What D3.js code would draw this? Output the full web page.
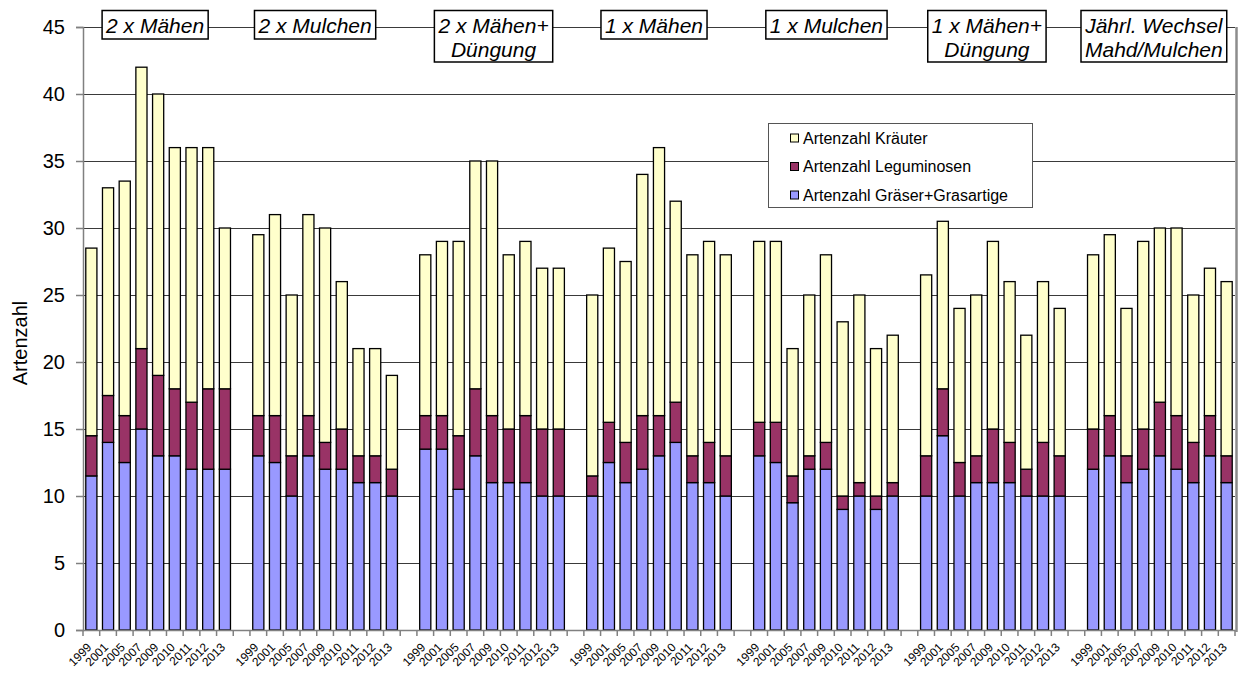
<!DOCTYPE html>
<html><head><meta charset="utf-8">
<script src="https://cdn.jsdelivr.net/npm/d3@7"></script>
<style>
html,body{margin:0;padding:0;background:#fff;}
svg{display:block;font-family:"Liberation Sans",Arial,sans-serif;}
</style></head>
<body><svg id="c" width="1239" height="673"></svg>
<script>
// ---- data ----
const years = ["1999","2001","2005","2007","2009","2010","2011","2012","2013"];
const groupLabels = [
  ["2 x Mähen"],
  ["2 x Mulchen"],
  ["2 x Mähen+","Düngung"],
  ["1 x Mähen"],
  ["1 x Mulchen"],
  ["1 x Mähen+","Düngung"],
  ["Jährl. Wechsel","Mahd/Mulchen"]
];
const seriesNames = ["Artenzahl Gräser+Grasartige","Artenzahl Leguminosen","Artenzahl Kräuter"];
const graeser = [
  [11.5,14,12.5,15,13,13,12,12,12],
  [13,12.5,10,13,12,12,11,11,10],
  [13.5,13.5,10.5,13,11,11,11,10,10],
  [10,12.5,11,12,13,14,11,11,10],
  [13,12.5,9.5,12,12,9,10,9,10],
  [10,14.5,10,11,11,11,10,10,10],
  [12,13,11,12,13,12,11,13,11]
];
const leguminosen = [
  [3,3.5,3.5,6,6,5,5,6,6],
  [3,3.5,3,3,2,3,2,2,2],
  [2.5,2.5,4,5,5,4,5,5,5],
  [1.5,3,3,4,3,3,2,3,3],
  [2.5,3,2,1,2,1,1,1,1],
  [3,3.5,2.5,2,4,3,2,4,3],
  [3,3,2,3,4,4,3,3,2]
];
const kraeuter = [
  [14,15.5,17.5,21,21,18,19,18,12],
  [13.5,15,12,15,16,11,8,8,7],
  [12,13,14.5,17,19,13,13,12,12],
  [13.5,13,13.5,18,20,15,15,15,15],
  [13.5,13.5,9.5,12,14,13,14,11,11],
  [13.5,12.5,11.5,12,14,12,10,12,11],
  [13,13.5,11,14,13,14,11,11,13]
];
const yTicks = [0,5,10,15,20,25,30,35,40,45];
const yTitle = "Artenzahl";

// ---- styles / layout ----
const colors = {"Artenzahl Gräser+Grasartige":"#9999FF","Artenzahl Leguminosen":"#993366","Artenzahl Kräuter":"#FFFFCC"};
const M = {left:83, right:1235, top:27, bottom:630};
const titleShift = [-3,-10,1.5,-5,0.5,-6,-6];

// build categories: 9 years per group + a blank between groups
const cats = [];
const rows = [];
groupLabels.forEach((g,gi)=>{
  years.forEach((y,yi)=>{
    const key = "g"+gi+"_"+y;
    cats.push(key);
    rows.push({key, year:y, group:gi,
      "Artenzahl Gräser+Grasartige":graeser[gi][yi],
      "Artenzahl Leguminosen":leguminosen[gi][yi],
      "Artenzahl Kräuter":kraeuter[gi][yi]});
  });
  if(gi<groupLabels.length-1) cats.push("gap"+gi);
});

const svg = d3.select("#c");
const x = d3.scaleBand().domain(cats).range([M.left,M.right]).paddingInner(1/3).paddingOuter(1/6);
const y = d3.scaleLinear().domain([0,45]).range([M.bottom,M.top]);

// gridlines
svg.append("g").selectAll("line").data(yTicks.filter(d=>d>0)).join("line")
  .attr("x1",M.left).attr("x2",M.right)
  .attr("y1",d=>Math.round(y(d))+0.5).attr("y2",d=>Math.round(y(d))+0.5)
  .attr("stroke","#3a3a3a").attr("stroke-width",1);

// right border
svg.append("line").attr("x1",M.right+1.5).attr("x2",M.right+1.5)
  .attr("y1",M.top).attr("y2",M.bottom+2).attr("stroke","#8c8c8c").attr("stroke-width",2.5);

// stacked bars
const stack = d3.stack().keys(seriesNames)(rows);
svg.append("g").selectAll("g").data(stack).join("g")
  .attr("fill",d=>colors[d.key])
  .selectAll("rect").data(d=>d).join("rect")
  .attr("x",d=>x(d.data.key)).attr("width",x.bandwidth())
  .attr("y",d=>y(d[1])).attr("height",d=>y(d[0])-y(d[1]))
  .attr("stroke","#000").attr("stroke-width",1.3);

// y axis
const yAxis = d3.axisLeft(y).tickValues(yTicks).tickSize(7).tickPadding(11);
const ya = svg.append("g").attr("transform",`translate(${M.left},0)`).call(yAxis);
ya.select(".domain").attr("stroke","#808080").attr("stroke-width",1.5);
ya.selectAll(".tick line").attr("stroke","#808080").attr("stroke-width",1.5);
ya.selectAll("text").attr("font-size",20).attr("fill","#000").attr("font-family","Liberation Sans, Arial, sans-serif");

// x axis: boundary ticks
const step = x.step();
const bounds = d3.range(cats.length+1).map(i=>M.left + i*step);
const xa = svg.append("g");
xa.append("line").attr("x1",M.left).attr("x2",M.right).attr("y1",M.bottom+0.5).attr("y2",M.bottom+0.5)
  .attr("stroke","#808080").attr("stroke-width",1.5);
xa.selectAll("line.t").data(bounds).join("line").attr("class","t")
  .attr("x1",d=>d).attr("x2",d=>d).attr("y1",M.bottom).attr("y2",M.bottom+6)
  .attr("stroke","#808080").attr("stroke-width",1.5);
xa.selectAll("text").data(rows).join("text")
  .attr("transform",d=>`translate(${x(d.key)+x.bandwidth()/2+1},${M.bottom+18}) rotate(-45)`)
  .attr("text-anchor","end").attr("font-size",12).attr("fill","#000")
  .text(d=>d.year);

// y title
svg.append("text").attr("transform",`translate(27,343) rotate(-90)`)
  .attr("text-anchor","middle").attr("font-size",20).attr("fill","#000").text(yTitle);

// group title boxes
groupLabels.forEach((lines,gi)=>{
  const first = x("g"+gi+"_"+years[0]), last = x("g"+gi+"_"+years[years.length-1])+x.bandwidth();
  const cx = (first+last)/2 + titleShift[gi];
  const g = svg.append("g");
  const t = g.append("text").attr("font-size",21).attr("font-style","italic").attr("fill","#000")
    .attr("text-anchor","middle");
  lines.forEach((l,li)=>t.append("tspan").attr("x",cx).attr("y",33+li*24).text(l));
  const w = d3.max(t.selectAll("tspan").nodes(),n=>n.getComputedTextLength());
  g.insert("rect","text").attr("x",cx-w/2-4).attr("y",10.5).attr("width",w+8)
    .attr("height",lines.length===1?28.5:51.5).attr("fill","#fff").attr("stroke","#000").attr("stroke-width",1.5);
});

// legend
const lg = svg.append("g");
lg.append("rect").attr("x",768.5).attr("y",123.5).attr("width",264).attr("height",84)
  .attr("fill","#fff").attr("stroke","#555").attr("stroke-width",1);
const legendOrder = seriesNames.slice().reverse();
legendOrder.forEach((s,i)=>{
  const cy = 138 + i*28.5;
  lg.append("rect").attr("x",790.5).attr("y",cy-4).attr("width",8).attr("height",8)
    .attr("fill",colors[s]).attr("stroke","#000").attr("stroke-width",1);
  lg.append("text").attr("x",803).attr("y",cy+5.5).attr("font-size",16).attr("fill","#000").text(s);
});
</script></body></html>
